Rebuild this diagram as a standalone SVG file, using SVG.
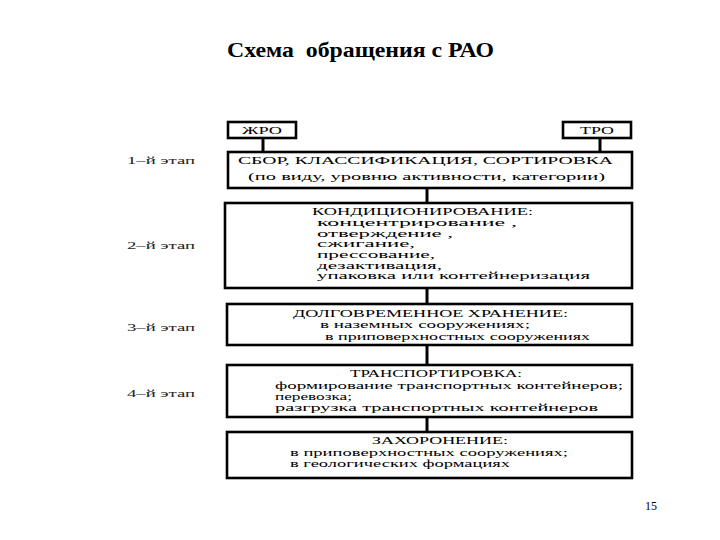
<svg xmlns="http://www.w3.org/2000/svg" width="720" height="540" viewBox="0 0 720 540">
<style>
.box{fill:#fff;stroke:#000;stroke-width:2.6}
.t{font-family:"Liberation Serif","DejaVu Serif",serif;font-size:10.5px;fill:#000}
.c{text-anchor:middle}
.lbl{font-family:"Liberation Serif","DejaVu Serif",serif;font-size:10.5px;fill:#222}
.title{font-family:"Liberation Serif","DejaVu Serif",serif;font-size:22px;font-weight:bold;fill:#000;white-space:pre}
.conn{stroke:#000;stroke-width:3;fill:none}
</style>
<rect width="720" height="540" fill="#fff"/>
<text class="title" x="227" y="57" textLength="267" lengthAdjust="spacingAndGlyphs" xml:space="preserve">Схема  обращения с РАО</text>
<g id="connectors">
<line class="conn" x1="263" y1="138" x2="263" y2="152"/>
<line class="conn" x1="600" y1="138" x2="600" y2="152"/>
<line class="conn" x1="427" y1="188" x2="427" y2="203"/>
<line class="conn" x1="427" y1="288" x2="427" y2="304"/>
<line class="conn" x1="427" y1="345" x2="427" y2="365"/>
<line class="conn" x1="427" y1="417" x2="427" y2="432"/>
</g>
<g id="stage-labels">
<text class="lbl" x="127" y="164" textLength="68" lengthAdjust="spacingAndGlyphs">1–й этап</text>
<text class="lbl" x="127" y="249" textLength="68" lengthAdjust="spacingAndGlyphs">2–й этап</text>
<text class="lbl" x="127" y="331" textLength="68" lengthAdjust="spacingAndGlyphs">3–й этап</text>
<text class="lbl" x="127" y="397" textLength="68" lengthAdjust="spacingAndGlyphs">4–й этап</text>
</g>
<g id="zhro">
<rect class="box" x="228" y="122" width="68" height="16"/>
<text class="t c" x="262" y="134" textLength="40" lengthAdjust="spacingAndGlyphs">ЖРО</text>
</g>
<g id="tro">
<rect class="box" x="563" y="122" width="68" height="16"/>
<text class="t c" x="597" y="134" textLength="34" lengthAdjust="spacingAndGlyphs">ТРО</text>
</g>
<g id="stage1">
<rect class="box" x="228" y="152" width="404" height="36"/>
<text class="t" x="238" y="164" textLength="375" lengthAdjust="spacingAndGlyphs">СБОР, КЛАССИФИКАЦИЯ, СОРТИРОВКА</text>
<text class="t" x="248" y="180" textLength="357" lengthAdjust="spacingAndGlyphs">(по виду, уровню активности, категории)</text>
</g>
<g id="stage2">
<rect class="box" x="225" y="203" width="407" height="85"/>
<text class="t" x="312" y="215" textLength="221" lengthAdjust="spacingAndGlyphs">КОНДИЦИОНИРОВАНИЕ:</text>
<text class="t" x="317" y="226" textLength="200" lengthAdjust="spacingAndGlyphs">концентрирование ,</text>
<text class="t" x="317" y="236.5" textLength="136" lengthAdjust="spacingAndGlyphs">отверждение ,</text>
<text class="t" x="317" y="247" textLength="98" lengthAdjust="spacingAndGlyphs">сжигание,</text>
<text class="t" x="317" y="258" textLength="118" lengthAdjust="spacingAndGlyphs">прессование,</text>
<text class="t" x="317" y="268.5" textLength="125" lengthAdjust="spacingAndGlyphs">дезактивация,</text>
<text class="t" x="317" y="279" textLength="273" lengthAdjust="spacingAndGlyphs">упаковка или контейнеризация</text>
</g>
<g id="stage3">
<rect class="box" x="227" y="304" width="405" height="41"/>
<text class="t" x="293" y="317" textLength="275" lengthAdjust="spacingAndGlyphs">ДОЛГОВРЕМЕННОЕ ХРАНЕНИЕ:</text>
<text class="t" x="320" y="328" textLength="210" lengthAdjust="spacingAndGlyphs">в наземных сооружениях;</text>
<text class="t" x="325" y="340" textLength="265" lengthAdjust="spacingAndGlyphs">в приповерхностных сооружениях</text>
</g>
<g id="stage4">
<rect class="box" x="227" y="365" width="405" height="52"/>
<text class="t" x="350" y="377" textLength="172" lengthAdjust="spacingAndGlyphs">ТРАНСПОРТИРОВКА:</text>
<text class="t" x="275" y="389" textLength="348" lengthAdjust="spacingAndGlyphs">формирование транспортных контейнеров;</text>
<text class="t" x="275" y="400" textLength="77" lengthAdjust="spacingAndGlyphs">перевозка;</text>
<text class="t" x="275" y="411" textLength="323" lengthAdjust="spacingAndGlyphs">разгрузка транспортных контейнеров</text>
</g>
<g id="stage5">
<rect class="box" x="227" y="432" width="405" height="46"/>
<text class="t" x="372" y="444" textLength="136" lengthAdjust="spacingAndGlyphs">ЗАХОРОНЕНИЕ:</text>
<text class="t" x="290" y="456" textLength="278" lengthAdjust="spacingAndGlyphs">в приповерхностных сооружениях;</text>
<text class="t" x="290" y="467" textLength="220" lengthAdjust="spacingAndGlyphs">в геологических формациях</text>
</g>
<text class="t" x="645" y="510" font-size="12" style="font-size:12px">15</text>
</svg>
